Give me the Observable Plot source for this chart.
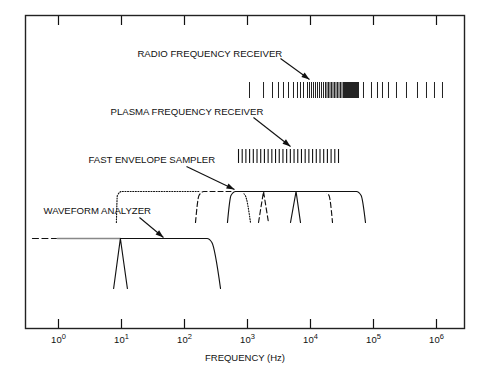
<!DOCTYPE html>
<html><head><meta charset="utf-8">
<script src="https://cdn.jsdelivr.net/npm/d3@7"></script>
<script src="https://cdn.jsdelivr.net/npm/@observablehq/plot@0.6"></script>
<style>
html,body{margin:0;padding:0;background:#fff;}
#chart svg{display:block;}
</style></head><body><div id="chart"></div>
<script>
// ---- data ----
const decades = [1, 10, 100, 1000, 10000, 100000, 1000000];
const tickLabels = ["10⁰", "10¹", "10²", "10³", "10⁴", "10⁵", "10⁶"];
const axisTitle = "FREQUENCY (Hz)";

const instrumentNames = ["RADIO FREQUENCY RECEIVER", "PLASMA FREQUENCY RECEIVER", "FAST ENVELOPE SAMPLER", "WAVEFORM ANALYZER"];
const labelFreq = [17.9, 6.69, 2.99, 0.578];
const labelLevel = [275, 217, 169, 118];
const arrowFrom = [[3342, 270], [1245, 211], [107.6, 162], [19.3, 111]];
const arrowTo = [[9641, 249], [4817, 182], [622, 139], [46.4, 91]];

// Radio frequency receiver channels (Hz)
const radioChannels = [1076, 1796, 2494, 3105, 3727, 4477, 5373, 6218, 6937, 7746,
  8964, 9641, 10373, 11158, 12005, 12915, 13895, 14946, 16082,
  17302, 18278, 19307, 20396, 21544, 22758, 24044, 25397, 26827, 28340, 29942, 31623,
  33405, 34650, 35938, 37276, 38662, 40104, 41591, 43137, 44748, 46416, 48131, 49927, 51795, 53727, 55719, 57797,
  69380, 92960, 115700, 138950, 173000, 231800, 334000, 499300, 693800, 929600, 1245000];
// Plasma frequency receiver channels (Hz)
const plasmaChannels = [720, 824, 943, 1080, 1237, 1416, 1621, 1856, 2125, 2434, 2787, 3191, 3653, 4183,
  4789, 5484, 6279, 7189, 8231, 9426, 10792, 12357, 14149, 16200, 18549, 21238, 24318, 27843];

// Fast envelope sampler bands: [bottomLo, topLo, topHi, bottomHi] (Hz)
const fesDotted = [8.3, 8.64, 896, 1116];
const fesDashed = [149.5, 173, 19300, 22350];
const fesSolid = [481, 557, 62200, 74600];
// narrow filters: [lo, centre, hi]
const fesNarrowDashed = [1496, 1796, 2154];
const fesNarrowSolid = [4817, 5900, 6937];

// Waveform analyzer
const waExtension = [0.386, 0.93];
const waLow = [0.96, 9.6];
const waBand = [null, 9.6, 265, 373];
const waNarrow = [7.5, 9.6, 12.4];

// row levels [bottom, top] (arbitrary units)
const radioRow = [230, 246];
const plasmaRow = [165, 179];
const fesRow = [106, 137];
const waRow = [40, 90];

// ---- helpers ----
const lg = Math.log10;
function along(b, t, frac) { return 10 ** (lg(t) + (lg(b) - lg(t)) * frac); }
function bandPoints([bLo, tLo, tHi, bHi], [bottom, top]) {
  const r = 4, c = 0.065;
  const f = r / (top - bottom);
  const pts = [];
  if (bLo != null) pts.push({x: bLo, y: bottom}, {x: along(bLo, tLo, f), y: top - r}, {x: tLo * 10 ** c, y: top});
  else pts.push({x: tLo, y: top});
  pts.push({x: tHi / 10 ** c, y: top}, {x: along(bHi, tHi, f), y: top - r}, {x: bHi, y: bottom});
  return pts;
}
function narrowPoints([lo, c, hi], [bottom, top]) {
  const r = 2.5, f = r / (top - bottom);
  return [{x: lo, y: bottom}, {x: along(lo, c, f), y: top - r}, {x: c, y: top},
          {x: along(hi, c, f), y: top - r}, {x: hi, y: bottom}];
}
function seg([a, b], level) { return [{x: a, y: level}, {x: b, y: level}]; }

const ink = "#111";
const filledArrow = (color) => {
  const m = d3.create("svg:marker")
    .attr("viewBox", "-9 -4 10 8")
    .attr("markerWidth", 10).attr("markerHeight", 8)
    .attr("markerUnits", "userSpaceOnUse")
    .attr("orient", "auto")
    .attr("fill", color).attr("stroke", "none");
  m.append("path").attr("d", "M-8,-2.8L0,0L-8,2.8Z");
  return m.node();
};

const lineOpts = {x: "x", y: "y", curve: "monotone-x", stroke: ink, strokeWidth: 1.15};
const under = {x: "x", y: "y", curve: "monotone-x", stroke: "white", strokeWidth: 3.5};

const labels = instrumentNames.map((t, i) => ({t, x: labelFreq[i], y: labelLevel[i]}));
const arrows = arrowFrom.map((a, i) => ({x1: a[0], y1: a[1], x2: arrowTo[i][0], y2: arrowTo[i][1]}));

const chart = Plot.plot({
  width: 485, height: 370,
  marginTop: 15, marginRight: 21, marginBottom: 42, marginLeft: 25,
  style: {fontFamily: "'Liberation Sans', Arial, Helvetica, sans-serif", fontSize: "9.5px", color: ink, background: "white"},
  x: {type: "log", domain: [0.2994, 2.783e6]},
  y: {domain: [0, 313], axis: null},
  marks: [
    Plot.axisX(decades, {anchor: "bottom", tickSize: -9, fill: "none", label: null, strokeWidth: 1.2}),
    Plot.axisX(decades, {anchor: "top", tickSize: -9, fill: "none", label: null, strokeWidth: 1.2}),
    Plot.axisX(decades, {anchor: "bottom", tickSize: 0, tickPadding: 8, tickFormat: d => tickLabels[decades.indexOf(d)],
      label: axisTitle, labelAnchor: "center", labelOffset: 32, labelArrow: "none", fontSize: 9.5}),
    Plot.frame({stroke: "#222", strokeWidth: 1.4}),
    // radio receiver
    Plot.ruleX(radioChannels, {x: d => d, y1: radioRow[0], y2: radioRow[1], stroke: "#222", strokeWidth: 1}),
    // plasma receiver
    Plot.ruleX(plasmaChannels, {x: d => d, y1: plasmaRow[0], y2: plasmaRow[1], stroke: ink, strokeWidth: 1.1}),
    // fast envelope sampler
    Plot.line(bandPoints(fesDotted, fesRow), {...lineOpts, strokeDasharray: "1,1.6"}),
    Plot.line(bandPoints(fesDashed, fesRow), under),
    Plot.line(bandPoints(fesDashed, fesRow), {...lineOpts, strokeDasharray: "5,3"}),
    Plot.line(bandPoints(fesSolid, fesRow), under),
    Plot.line(bandPoints(fesSolid, fesRow), lineOpts),
    Plot.line(narrowPoints(fesNarrowDashed, fesRow), {...lineOpts, strokeDasharray: "5,3"}),
    Plot.line(narrowPoints(fesNarrowSolid, fesRow), lineOpts),
    // waveform analyzer
    Plot.line(seg(waExtension, waRow[1]), {...lineOpts, curve: "linear", strokeDasharray: "6,3.5"}),
    Plot.line(seg(waLow, waRow[1]), {...lineOpts, curve: "linear", stroke: "#888", strokeWidth: 1.6}),
    Plot.line(bandPoints(waBand, waRow), lineOpts),
    Plot.line(narrowPoints(waNarrow, waRow), lineOpts),
    // labels and arrows
    Plot.text(labels, {x: "x", y: "y", text: "t", textAnchor: "start", fill: ink, fontSize: 9.6}),
    Plot.link(arrows, {x1: "x1", y1: "y1", x2: "x2", y2: "y2", stroke: ink, strokeWidth: 1.1, markerEnd: filledArrow})
  ]
});

// superscript exponents on tick labels
const supMap = {"⁰": "0", "¹": "1", "²": "2", "³": "3", "⁴": "4", "⁵": "5", "⁶": "6"};
d3.select(chart).selectAll('g[aria-label="x-axis tick label"] text').each(function () {
  const s = this.textContent;
  const base = s.slice(0, -1), exp = supMap[s.slice(-1)];
  if (exp == null) return;
  const t = d3.select(this);
  t.text(base);
  t.append("tspan").attr("dy", "-4").attr("font-size", "7.5").text(exp);
});
document.getElementById("chart").appendChild(chart);
</script>
</body></html>
